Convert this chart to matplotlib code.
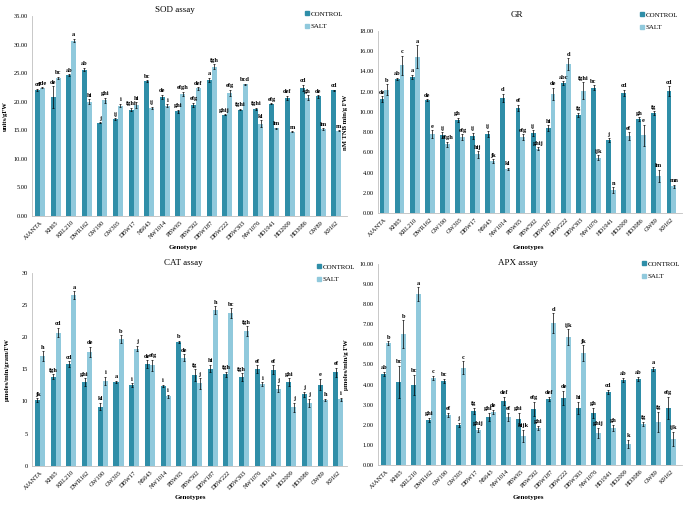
import matplotlib
matplotlib.use("Agg")
import matplotlib.pyplot as plt
from matplotlib.lines import Line2D
import numpy as np

plt.rcParams['font.family'] = ['Liberation Serif', 'DejaVu Serif']

genotypes = ['AJANTA', 'KH65', 'KRL210', 'DWR162', 'GW190', 'GW303', 'DBW17', 'NS643',
             'NW1014', 'PBW65', 'PBW502', 'DBW187', 'DBW222', 'DBW303', 'NW1076', 'HD1941',
             'HD2009', 'HD3086', 'GW89', 'K9162']

### SOD
sod_control = [22.0, 20.8, 24.6, 25.6, 16.3, 16.9, 18.6, 23.6, 20.8, 18.3,
               19.4, 23.8, 17.7, 18.6, 18.7, 19.6, 20.6, 22.4, 20.9, 22.0]
sod_salt = [22.4, 24.1, 30.7, 20.0, 20.2, 19.3, 19.4, 18.9, 19.3, 21.3,
            22.3, 26.1, 21.5, 23.0, 16.1, 15.3, 14.7, 20.7, 15.2, 14.9]
sod_control_err = [0.2, 1.9, 0.2, 0.3, 0.1, 0.2, 0.3, 0.1, 0.4, 0.3,
                   0.4, 0.4, 0.1, 0.1, 0.2, 0.1, 0.4, 0.5, 0.2, 0.1]
sod_salt_err = [0.1, 0.2, 0.3, 0.4, 0.5, 0.3, 0.5, 0.2, 0.2, 0.4,
                0.2, 0.4, 0.6, 0.1, 0.6, 0.1, 0.1, 0.4, 0.1, 0.1]
sod_control_let = ['cd', 'de', 'ab', 'ab', 'j', 'ij', 'fghi', 'bc', 'de', 'ghi',
                   'efg', 'a', 'ghij', 'fghi', 'fghi', 'efg', 'def', 'cd', 'de', 'cd']
sod_salt_let = ['cde', 'bc', 'a', 'hi', 'ghi', 'i', 'hi', 'ij', 'i', 'efgh',
                'def', 'fgh', 'efg', 'bcd', 'kl', 'lm', 'm', 'gh', 'lm', 'm']

### GR
gr_control = [11.25, 13.25, 13.45, 11.15, 7.7, 9.2, 7.65, 7.85, 11.4, 10.4,
              7.9, 8.4, 12.8, 9.7, 12.4, 7.2, 11.9, 9.25, 9.85, 12.05]
gr_salt = [12.2, 14.6, 15.45, 7.8, 6.8, 7.5, 5.8, 5.15, 4.4, 7.5,
           6.35, 11.8, 14.7, 12.1, 5.5, 2.3, 7.6, 7.7, 3.7, 2.65]
gr_control_err = [0.3, 0.1, 0.2, 0.1, 0.3, 0.2, 0.3, 0.3, 0.4, 0.3,
                  0.3, 0.3, 0.2, 0.2, 0.2, 0.2, 0.3, 0.2, 0.2, 0.5]
gr_salt_err = [0.5, 0.95, 1.1, 0.4, 0.25, 0.3, 0.3, 0.2, 0.1, 0.3,
               0.15, 0.6, 0.6, 0.8, 0.2, 0.25, 0.4, 1.05, 0.6, 0.15]
gr_control_let = ['de', 'ab', 'a', 'de', 'ij', 'gh', 'ij', 'ij', 'd', 'ef',
                  'ij', 'hi', 'abc', 'fg', 'bc', 'j', 'cd', 'gh', 'fg', 'cd']
gr_salt_let = ['b', 'c', 'a', 'e', 'efgh', 'efg', 'hij', 'jk', 'kl', 'efg',
               'ghij', 'de', 'd', 'fghi', 'ijk', 'n', 'ef', 'e', 'lm', 'mn']

### CAT
cat_control = [10.2, 13.8, 15.8, 13.0, 9.2, 13.0, 12.5, 15.8, 12.4, 19.2,
               14.1, 15.1, 14.2, 13.8, 15.0, 14.9, 13.0, 11.1, 12.6, 14.5]
cat_salt = [17.0, 20.7, 26.5, 17.7, 13.2, 19.7, 18.2, 15.6, 10.8, 16.8,
            12.8, 24.2, 23.7, 20.9, 12.7, 12.0, 9.1, 9.8, 10.2, 10.3]
cat_control_err = [0.3, 0.4, 0.4, 0.6, 0.6, 0.2, 0.3, 0.6, 0.2, 0.2,
                   0.9, 0.6, 0.4, 0.6, 0.6, 0.7, 0.6, 0.4, 0.9, 0.7]
cat_salt_err = [0.8, 0.7, 0.6, 0.8, 0.6, 0.6, 0.4, 0.9, 0.2, 0.5,
                0.8, 0.6, 0.8, 0.8, 0.3, 0.6, 0.7, 0.6, 0.2, 0.3]
cat_control_let = ['jk', 'fgh', 'cd', 'ghi', 'kl', 'a', 'i', 'de', 'i', 'b',
                   'fg', 'hi', 'fgh', 'fgh', 'ef', 'ef', 'ghi', 'j', 'e', 'ef']
cat_salt_let = ['h', 'cd', 'a', 'de', 'i', 'b', 'j', 'efg', 'i', 'de',
                'j', 'h', 'bc', 'fgh', 'i', 'j', 'j', 'j', 'h', 'i']

### APX
apx_control = [4.55, 4.15, 4.0, 2.25, 4.2, 2.0, 2.7, 2.4, 3.2, 2.3,
               2.8, 3.3, 3.35, 2.85, 2.6, 3.65, 4.25, 4.3, 4.8, 2.85]
apx_salt = [6.05, 6.5, 8.5, 4.35, 2.5, 4.85, 1.75, 2.65, 2.4, 1.45,
            1.85, 7.05, 6.35, 5.55, 1.6, 1.85, 1.05, 2.05, 2.15, 1.3]
apx_control_err = [0.1, 0.8, 0.5, 0.1, 0.1, 0.1, 0.15, 0.2, 0.2, 0.3,
                   0.35, 0.1, 0.35, 0.3, 0.25, 0.1, 0.1, 0.1, 0.1, 0.55]
apx_salt_err = [0.1, 0.7, 0.35, 0.1, 0.1, 0.3, 0.1, 0.1, 0.2, 0.3,
                0.1, 0.5, 0.4, 0.4, 0.25, 0.15, 0.2, 0.1, 0.5, 0.35]
apx_control_let = ['ab', 'bc', 'bc', 'ghi', 'bc', 'j', 'fg', 'ghi', 'def', 'ghi',
                   'efg', 'def', 'de', 'hi', 'gh', 'cd', 'ab', 'ab', 'a', 'efg']
apx_salt_let = ['b', 'b', 'a', 'c', 'ef', 'c', 'ghij', 'de', 'ef', 'hijk',
                'ghi', 'd', 'ijk', 'jk', 'ghij', 'gh', 'k', 'fg', 'fg', 'ijk']

C_CONTROL = '#2f8ea8'
C_SALT = '#90c9dc'
W, H = 685, 505

fig = plt.figure(figsize=(6.85, 5.05), dpi=100)


### axes from pixel box (left, top, right, bottom)
def px_axes(x0, y0, x1, y1):
    return fig.add_axes([x0 / W, 1 - y1 / H, (x1 - x0) / W, (y1 - y0) / H])


def panel(box, xlim, ymax, ystep, fmt, ctrl, salt, cerr, serr, clet, slet,
          title, title_xy, ylabel, ylab_x, xlabel, xlab_xy, leg_xy):
    ax = px_axes(*box)
    x = np.arange(len(genotypes))
    w = 0.32
    ax.bar(x - w / 2, ctrl, w, color=C_CONTROL, zorder=2)
    ax.bar(x + w / 2, salt, w, color=C_SALT, zorder=2)
    ax.errorbar(x - w / 2, ctrl, yerr=cerr, fmt='none', ecolor='black',
                elinewidth=0.5, capsize=1.0, capthick=0.5, zorder=3)
    ax.errorbar(x + w / 2, salt, yerr=serr, fmt='none', ecolor='black',
                elinewidth=0.5, capsize=1.0, capthick=0.5, zorder=3)
    pad = ymax * 0.008
    for i in range(len(genotypes)):
        ax.text(x[i] - w / 2, ctrl[i] + cerr[i] + pad, clet[i], ha='center', va='bottom',
                fontsize=4.6, fontweight='bold')
        ax.text(x[i] + w / 2, salt[i] + serr[i] + pad, slet[i], ha='center', va='bottom',
                fontsize=4.6, fontweight='bold')
    ax.set_xlim(*xlim)
    ax.set_ylim(0, ymax)
    ticks = np.arange(0, ymax + ystep / 2, ystep)
    ax.set_yticks(ticks)
    ax.set_yticklabels([fmt % t for t in ticks], fontsize=4.6)
    ax.set_xticks(x)
    ax.set_xticklabels(genotypes, rotation=45, ha='right', rotation_mode='anchor', fontsize=4.6)
    ax.tick_params(length=0, pad=3)
    for s in ['top', 'right']:
        ax.spines[s].set_visible(False)
    for s in ['left', 'bottom']:
        ax.spines[s].set_color('#bfbfbf')
        ax.spines[s].set_linewidth(0.6)
    ax.set_ylabel(ylabel, fontsize=4.8, fontweight='bold')
    ax.yaxis.set_label_coords(ylab_x, 0.5)
    fig.text(title_xy[0] / W, 1 - title_xy[1] / H, title, ha='center', va='center', fontsize=6.5)
    fig.text(xlab_xy[0] / W, 1 - xlab_xy[1] / H, xlabel, ha='center', va='center',
             fontsize=5, fontweight='bold')
    handles = [Line2D([], [], marker='s', ls='none', color=C_CONTROL, markersize=2.6),
               Line2D([], [], marker='s', ls='none', color=C_SALT, markersize=2.6)]
    fig.legend(handles, ['CONTROL', 'SALT'], loc='upper left',
               bbox_to_anchor=(leg_xy[0] / W, 1 - leg_xy[1] / H), frameon=False,
               fontsize=5, handlelength=0.5, handletextpad=0.3, labelspacing=0.9,
               borderpad=0, borderaxespad=0)
    return ax


panel((32, 16, 347, 215.7), (-0.51, 19.68), 35, 5, '%.2f',
      sod_control, sod_salt, sod_control_err, sod_salt_err, sod_control_let, sod_salt_let,
      'SOD assay', (175, 10), 'units/gFW', -0.075, 'Genotype', (183, 248), (305, 11))

panel((378, 30.7, 682, 213.3), (-0.43, 19.7), 18, 2, '%.2f',
      gr_control, gr_salt, gr_control_err, gr_salt_err, gr_control_let, gr_salt_let,
      'GR', (517, 15), 'nM TNB min/g FW', -0.1, 'Genotypes', (528, 248), (640, 12))

panel((32, 272.7, 347, 465.7), (-0.51, 19.55), 30, 5, '%d',
      cat_control, cat_salt, cat_control_err, cat_salt_err, cat_control_let, cat_salt_let,
      'CAT assay', (183, 263), '\u00b5moles/min/gram/FW', -0.07, 'Genotypes', (190, 498), (317, 264))

panel((378, 264, 682, 465), (-0.54, 19.75), 10, 1, '%.2f',
      apx_control, apx_salt, apx_control_err, apx_salt_err, apx_control_let, apx_salt_let,
      'APX assay', (518, 263), '\u00b5moles/min/g FW', -0.095, 'Genotypes', (528, 498), (642, 261))

fig.savefig('out.png', dpi=100)
